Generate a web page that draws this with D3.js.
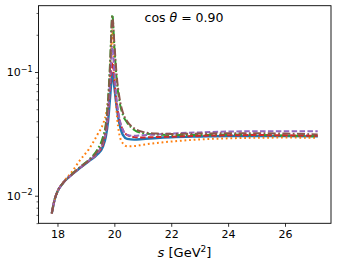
<!DOCTYPE html>
<html><head><meta charset="utf-8">
<script src="https://cdn.jsdelivr.net/npm/d3@7"></script>
<style>html,body{margin:0;padding:0;background:#fff;}svg{display:block;font-family:"DejaVu Sans",sans-serif;}</style>
</head><body>
<svg id="c" width="337" height="265"></svg>
<script>
const sValues = [17.8,17.9,18.0,18.2,18.5,18.8,19.1,19.4,19.6,19.7,19.78,19.85,19.93,20.0,20.08,20.18,20.3,20.45,20.7,21.0,21.5,22,23,24,25,26,27.15];
const blueSolid  = [0.0072,0.0093,0.0108,0.0127,0.0148,0.0168,0.019,0.0215,0.025,0.030,0.040,0.062,0.098,0.075,0.052,0.038,0.031,0.0288,0.0284,0.0287,0.0293,0.0297,0.0301,0.0304,0.0304,0.0303,0.0302];
const orangeDot  = [0.0072,0.0093,0.0108,0.0128,0.0155,0.0195,0.0237,0.031,0.038,0.045,0.060,0.095,0.22,0.10,0.048,0.031,0.0265,0.0251,0.0252,0.0258,0.0267,0.0274,0.0285,0.0291,0.0294,0.0295,0.0294];
const greenDashDot = [0.0072,0.0093,0.0108,0.0127,0.0149,0.0171,0.0195,0.0235,0.030,0.038,0.060,0.12,0.29,0.16,0.088,0.058,0.045,0.039,0.034,0.032,0.0312,0.031,0.031,0.0312,0.031,0.0307,0.0302];
const redDash    = [0.0072,0.0093,0.0108,0.0127,0.0148,0.0169,0.0191,0.022,0.026,0.032,0.045,0.075,0.12,0.085,0.056,0.041,0.034,0.031,0.0298,0.0296,0.0298,0.030,0.0305,0.0308,0.0309,0.0308,0.0305];
const purpleDash = [0.0072,0.0093,0.0108,0.0127,0.0148,0.0169,0.0192,0.0222,0.027,0.033,0.048,0.085,0.16,0.10,0.060,0.042,0.034,0.031,0.0305,0.0308,0.0313,0.0318,0.0325,0.033,0.0332,0.0332,0.0332];
const brownDashDot = [0.0072,0.0093,0.0108,0.0127,0.0148,0.017,0.0193,0.0228,0.028,0.036,0.056,0.11,0.28,0.17,0.095,0.062,0.047,0.040,0.035,0.0328,0.0318,0.0316,0.0318,0.032,0.032,0.0318,0.0313];
const xTicks = [18,20,22,24,26];
const yMajorTicks = [0.01,0.1];
const yMinorTicks = [0.006,0.007,0.008,0.009,0.02,0.03,0.04,0.05,0.06,0.07,0.08,0.09,0.2,0.3];
const titleText = "0.90";

const series = [
  {v: blueSolid, c:"#1f77b4", w:2.4, d:null},
  {v: orangeDot, c:"#ff7f0e", w:2, d:"1.8,2.8"},
  {v: greenDashDot, c:"#2ca02c", w:2, d:"8,2.4,1.8,2.4"},
  {v: redDash, c:"#d62728", w:2, d:"5.5,2.4"},
  {v: purpleDash, c:"#9467bd", w:2, d:"5.5,2.4"},
  {v: brownDashDot, c:"#8c564b", w:2, d:"8,2.4,1.8,2.4"}
];

const L=38.5, R=331, T=5.7, B=223.3;
const x = d3.scaleLinear().domain([17.333,27.617]).range([L,R]);
const y = d3.scaleLog().domain([Math.pow(10,-2.223),Math.pow(10,-0.464)]).range([B,T]);
const svg = d3.select("#c");

svg.append("clipPath").attr("id","cp").append("rect").attr("x",L).attr("y",T).attr("width",R-L).attr("height",B-T);
const line = d3.line().x((d,i)=>x(sValues[i])).y(d=>y(d)).curve(d3.curveMonotoneX);
const g = svg.append("g").attr("clip-path","url(#cp)");
series.forEach(s=>{
  g.append("path").attr("d",line(s.v)).attr("fill","none").attr("stroke",s.c)
   .attr("stroke-width",s.w).attr("stroke-dasharray",s.d).attr("stroke-linejoin","round");
});

const xa = svg.append("g").attr("transform",`translate(0,${B})`)
  .call(d3.axisBottom(x).tickValues(xTicks).tickSize(3.5).tickPadding(3).tickFormat(d3.format("d")));
xa.select(".domain").remove();
xa.selectAll("text").attr("font-size","11px").attr("fill","#000").attr("font-family","DejaVu Sans");
xa.selectAll("line").attr("stroke","#000").attr("stroke-width",0.8);

const ya = svg.append("g").attr("transform",`translate(${L},0)`)
  .call(d3.axisLeft(y).tickValues(yMajorTicks).tickSize(3.5).tickPadding(3).tickFormat(""));
ya.select(".domain").remove();
ya.selectAll("line").attr("stroke","#000").attr("stroke-width",0.8);
const ym = svg.append("g").attr("transform",`translate(${L},0)`)
  .call(d3.axisLeft(y).tickValues(yMinorTicks.filter(t=>y(t)<=B+0.01)).tickSize(2).tickFormat(""));
ym.select(".domain").remove();
ym.selectAll("line").attr("stroke","#000").attr("stroke-width",0.6);

yMajorTicks.forEach(t=>{
  const tx = svg.append("text").attr("x",L-6).attr("y",y(t)+4).attr("text-anchor","end")
    .attr("font-size","11px").attr("fill","#000");
  tx.append("tspan").text("10");
  tx.append("tspan").attr("dy",-4.5).attr("font-size","8px").text("\u2212"+Math.round(-Math.log10(t)));
});

svg.append("rect").attr("x",L).attr("y",T).attr("width",R-L).attr("height",B-T)
  .attr("fill","none").attr("stroke","#000").attr("stroke-width",0.9);

const tt = svg.append("text").attr("x",184).attr("y",21.5).attr("text-anchor","middle")
  .attr("font-size","12.5px").attr("fill","#000");
tt.append("tspan").text("cos ");
tt.append("tspan").attr("font-style","italic").text("\u03b8");
tt.append("tspan").text(" = "+titleText);

const xl = svg.append("text").attr("x",184.5).attr("y",256.5).attr("text-anchor","middle")
  .attr("font-size","13px").attr("fill","#000");
xl.append("tspan").attr("font-style","italic").text("s");
xl.append("tspan").text(" [GeV");
xl.append("tspan").attr("dy",-5).attr("font-size","9px").text("2");
xl.append("tspan").attr("dy",5).text("]");
</script>
</body></html>
